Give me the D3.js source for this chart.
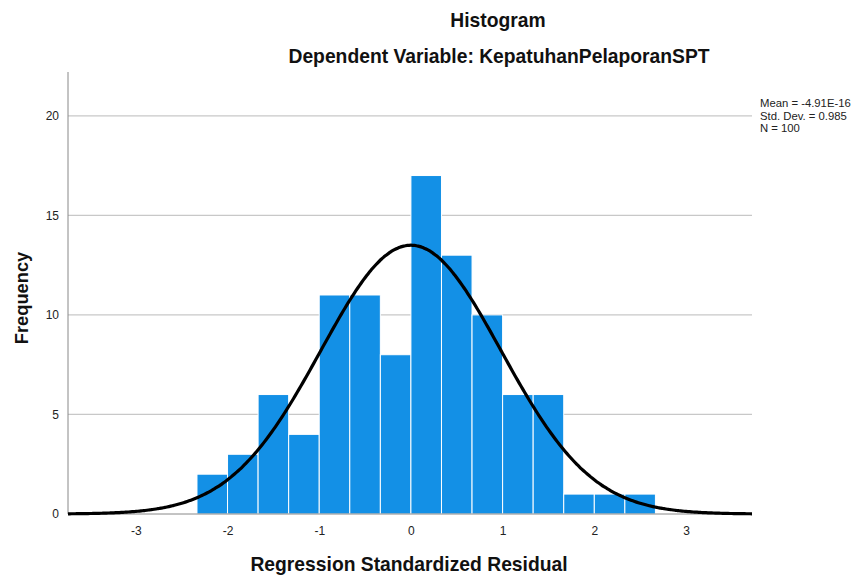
<!DOCTYPE html>
<html><head><meta charset="utf-8">
<script src="https://cdn.jsdelivr.net/npm/d3@7"></script>
<style>body{margin:0;background:#fff;} svg{display:block;font-family:"Liberation Sans",Arial,sans-serif;}</style>
</head><body>
<script>
const binStarts = [-2.3333,-2.0,-1.6667,-1.3333,-1.0,-0.6667,-0.3333,0.0,0.3333,0.6667,1.0,1.3333,1.6667,2.0,2.3333];
const binWidth = 1/3;
const counts = [2,3,6,4,11,11,8,17,13,10,6,6,1,1,1];
const xTicks = [-3,-2,-1,0,1,2,3];
const yTicks = [0,5,10,15,20];
const statsText = ["Mean = -4.91E-16","Std. Dev. = 0.985","N = 100"];
const mean = 0, sd = 0.985, n = 100;

const W = 863, H = 577;
const svg = d3.select("body").append("svg").attr("width", W).attr("height", H);
const x = d3.scaleLinear().domain([-3.74, 3.72]).range([68, 752]);
const y = d3.scaleLinear().domain([0, 22.2]).range([514, 72]);

// gridlines
svg.append("g").selectAll("line").data(yTicks.filter(d=>d>0)).join("line")
  .attr("x1", 68).attr("x2", 752).attr("y1", d=>y(d)).attr("y2", d=>y(d))
  .attr("stroke", "#c8c8c8").attr("stroke-width", 1.2);

// bars
svg.append("g").selectAll("rect").data(counts).join("rect")
  .attr("x", (d,i)=>x(binStarts[i]))
  .attr("width", (d,i)=>x(binStarts[i]+binWidth)-x(binStarts[i]))
  .attr("y", d=>y(d)).attr("height", d=>y(0)-y(d))
  .attr("fill", "#1390e6").attr("stroke", "#ffffff").attr("stroke-width", 1);

// axes
svg.append("line").attr("x1",68).attr("x2",752).attr("y1",y(0)).attr("y2",y(0)).attr("stroke","#888").attr("stroke-width",1);
svg.append("line").attr("x1",68).attr("x2",68).attr("y1",72).attr("y2",y(0)).attr("stroke","#888").attr("stroke-width",1);

const yAxis = d3.axisLeft(y).tickValues(yTicks).tickSize(0).tickPadding(9).tickFormat(d=>String(d));
const gy = svg.append("g").attr("transform","translate(68,0)").call(yAxis);
gy.select(".domain").remove();
gy.selectAll("text").attr("font-size", 12).attr("fill","#222").attr("font-family","Liberation Sans, Arial, sans-serif");

const xAxis = d3.axisBottom(x).tickValues(xTicks).tickSize(0).tickPadding(12).tickFormat(d=>String(d));
const gx = svg.append("g").attr("transform",`translate(0,${y(0)})`).call(xAxis);
gx.select(".domain").remove();
gx.selectAll("text").attr("font-size", 12).attr("fill","#222").attr("font-family","Liberation Sans, Arial, sans-serif");

// normal curve
const pts = d3.range(-3.74, 3.7201, 0.02).map(v => [v, n*binWidth*Math.exp(-0.5*((v-mean)/sd)**2)/(sd*Math.sqrt(2*Math.PI))]);
svg.append("path").datum(pts)
  .attr("d", d3.line().x(d=>x(d[0])).y(d=>y(d[1])).curve(d3.curveBasis))
  .attr("fill","none").attr("stroke","#000").attr("stroke-width",3.2);

// titles
svg.append("text").attr("x",498).attr("y",27).attr("text-anchor","middle").attr("font-size",19.3).attr("font-weight","bold").attr("fill","#111").text("Histogram");
svg.append("text").attr("x",499).attr("y",63).attr("text-anchor","middle").attr("font-size",19.3).attr("font-weight","bold").attr("fill","#111").text("Dependent Variable: KepatuhanPelaporanSPT");
svg.append("text").attr("x",409).attr("y",571).attr("text-anchor","middle").attr("font-size",19.3).attr("font-weight","bold").attr("fill","#111").text("Regression Standardized Residual");
svg.append("text").attr("transform","translate(28,298) rotate(-90)").attr("text-anchor","middle").attr("font-size",18.3).attr("font-weight","bold").attr("fill","#111").text("Frequency");

svg.append("g").selectAll("text").data(statsText).join("text")
  .attr("x",760).attr("y",(d,i)=>107+i*12.5).attr("font-size",11.3).attr("fill","#222").text(d=>d);
</script>
</body></html>
